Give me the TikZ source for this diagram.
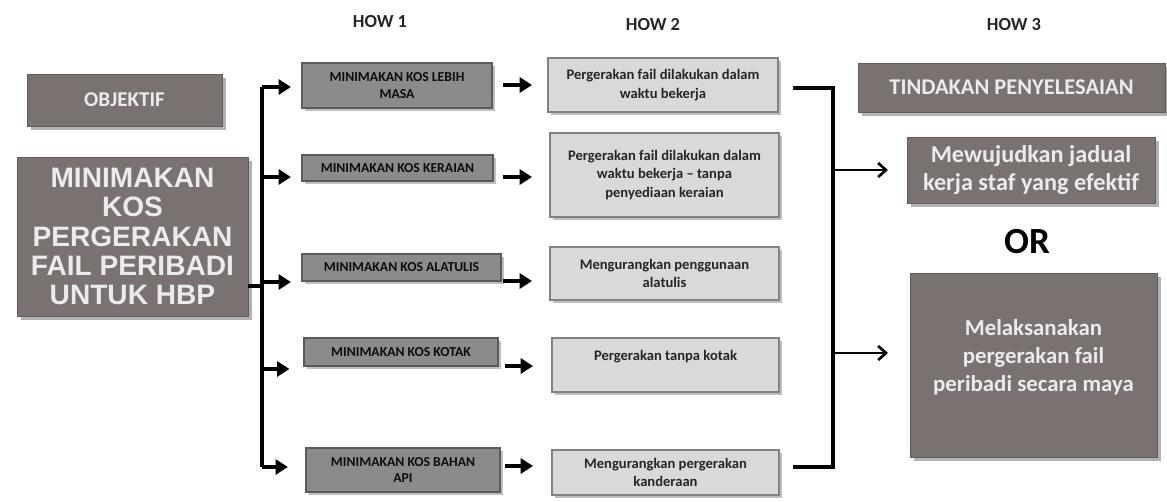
\documentclass[tikz,border=0pt]{standalone}
\usepackage{fontspec}
\setmainfont{Carlito}
\newfontfamily\arialb{Liberation Sans}
\usetikzlibrary{arrows.meta,shadows,calc}
\definecolor{dk}{HTML}{7A7171}
\definecolor{gA}{HTML}{8C8A8A}
\definecolor{gB}{HTML}{D9D9D9}
\newcommand\pbox[7]{\node[#2, minimum width={(#5-#3)*0.02cm}, minimum height={(#6-#4)*0.02cm}, inner sep=0pt] (#1) at ({(#3+#5)/2},{(#4+#6)/2}) {#7};}
\begin{document}
\begin{tikzpicture}[x=0.02cm,y=-0.02cm,
  darkbox/.style={fill=dk, draw=dk!80!black, line width=0.5pt, align=center, text=white!92!black,
    drop shadow={shadow xshift=2.5pt, shadow yshift=-2.5pt, fill=black!30, opacity=1}},
  howa/.style={fill=gA, draw=gA!65!black, line width=0.6pt, align=center, text=black!95,
    font=\bfseries\fontsize{7.8}{9.6}\selectfont,
    drop shadow={shadow xshift=1.5pt, shadow yshift=-1.5pt, fill=black!25, opacity=1}},
  howb/.style={fill=gB, draw=gB!60!black, line width=0.6pt, align=center, text=black!85,
    font=\bfseries\fontsize{8.3}{10.5}\selectfont,
    drop shadow={shadow xshift=1.5pt, shadow yshift=-1.5pt, fill=black!25, opacity=1}},
  hdr/.style={font=\bfseries\fontsize{10.5}{12}\selectfont, text=black!85},
  arr/.style={line width=1.8pt, -{Triangle[length=7pt,width=8.5pt]}},
  thinarr/.style={line width=1.5pt, -{Straight Barb[length=4.5pt,width=8pt,line width=1.5pt]}},
  brk/.style={line width=2.2pt}
]
\useasboundingbox (0,0) rectangle (1167,501);

% headers
\node[hdr] (h1) at (380,22) {HOW 1};
\node[hdr] (h2) at (653,25) {HOW 2};
\node[hdr] (h3) at (1014,25) {HOW 3};

% objective
\pbox{obj}{darkbox, font=\bfseries\fontsize{12}{14}\selectfont}{27}{74}{222}{126}{OBJEKTIF}
\pbox{main}{darkbox, font=\arialb\bfseries\fontsize{16}{16.6}\selectfont}{17}{157}{248}{316}{MINIMAKAN\\KOS\\PERGERAKAN\\FAIL PERIBADI\\UNTUK HBP}

% HOW 1
\pbox{a1}{howa}{302}{63}{492}{108}{MINIMAKAN KOS LEBIH\\MASA}
\pbox{a2}{howa}{302}{155}{493}{181}{MINIMAKAN KOS KERAIAN}
\pbox{a3}{howa}{302}{254}{501}{281}{MINIMAKAN KOS ALATULIS}
\pbox{a4}{howa}{304}{338}{498}{366}{MINIMAKAN KOS KOTAK}
\pbox{a5}{howa}{306}{448}{500}{492}{MINIMAKAN KOS BAHAN\\API}

% HOW 2
\pbox{b1}{howb}{548}{58}{778}{112}{Pergerakan fail dilakukan dalam\\waktu bekerja}
\pbox{b2}{howb}{550}{133}{779}{217}{Pergerakan fail dilakukan dalam\\waktu bekerja -- tanpa\\penyediaan keraian}
\pbox{b3}{howb}{550}{247}{779}{300}{Mengurangkan penggunaan\\alatulis}
\pbox{b4}{howb}{552}{338}{779}{392}{Pergerakan tanpa kotak\\~}
\pbox{b5}{howb}{552}{450}{779}{495}{Mengurangkan pergerakan\\kanderaan}

% HOW 3
\pbox{c0}{darkbox, font=\bfseries\fontsize{12.8}{14}\selectfont}{858}{63}{1165}{112}{TINDAKAN PENYELESAIAN}
\pbox{c1}{darkbox, font=\bfseries\fontsize{13.8}{16}\selectfont}{907}{137}{1155}{203}{Mewujudkan jadual\\kerja staf yang efektif}
\node[font=\bfseries\fontsize{21}{24}\selectfont] (or) at (1027,242) {OR};
\pbox{c2}{darkbox, font=\bfseries\fontsize{13}{16}\selectfont}{910}{273}{1157}{457}{Melaksanakan\\pergerakan fail\\peribadi secara maya\\[-5pt]\mbox{}}

% left spine
\coordinate (s0) at (262,286);
\coordinate (s1) at (262,87);
\coordinate (s5) at (262,467);
\draw[line width=1.8pt] (main.east |- s0) -- (s0);
\draw[line width=1.8pt] (s1) -- (s5);
\coordinate (t1) at (262,87);
\coordinate (t2) at (262,177);
\coordinate (t3) at (262,282);
\coordinate (t4) at (262,369);
\coordinate (t5) at (262,467);
\draw[arr, shorten >=6pt] (t1) -- (a1.west |- t1);
\draw[arr, shorten >=6pt] (t2) -- (a2.west |- t2);
\draw[arr, shorten >=6pt] (t3) -- (a3.west |- t3);
\draw[arr, shorten >=8pt] (t4) -- (a4.west |- t4);
\draw[arr, shorten >=10pt] (t5) -- (a5.west |- t5);

% HOW1 -> HOW2
\coordinate (u1) at (503,85);
\coordinate (u2) at (503,177);
\coordinate (u3) at (503,281);
\coordinate (u4) at (505,366);
\coordinate (u5) at (505,466);
\coordinate (v1) at (532,85);
\coordinate (v2) at (532,177);
\coordinate (v3) at (532,281);
\coordinate (v4) at (533,366);
\coordinate (v5) at (533,466);
\draw[arr] (u1) -- (v1);
\draw[arr] (u2) -- (v2);
\draw[arr] (u3) -- (v3);
\draw[arr] (u4) -- (v4);
\draw[arr] (u5) -- (v5);

% right bracket
\coordinate (r1) at (793,88);
\coordinate (r2) at (833,88);
\coordinate (r3) at (833,467);
\coordinate (r4) at (793,467);
\draw[brk] (r1) -- (r2) -- (r3) -- (r4);
\coordinate (q1) at (833,170);
\coordinate (q2) at (833,353);
\coordinate (p1) at (888,170);
\coordinate (p2) at (888,353);
\draw[thinarr] (q1) -- (p1);
\draw[thinarr] (q2) -- (p2);
\end{tikzpicture}
\end{document}
